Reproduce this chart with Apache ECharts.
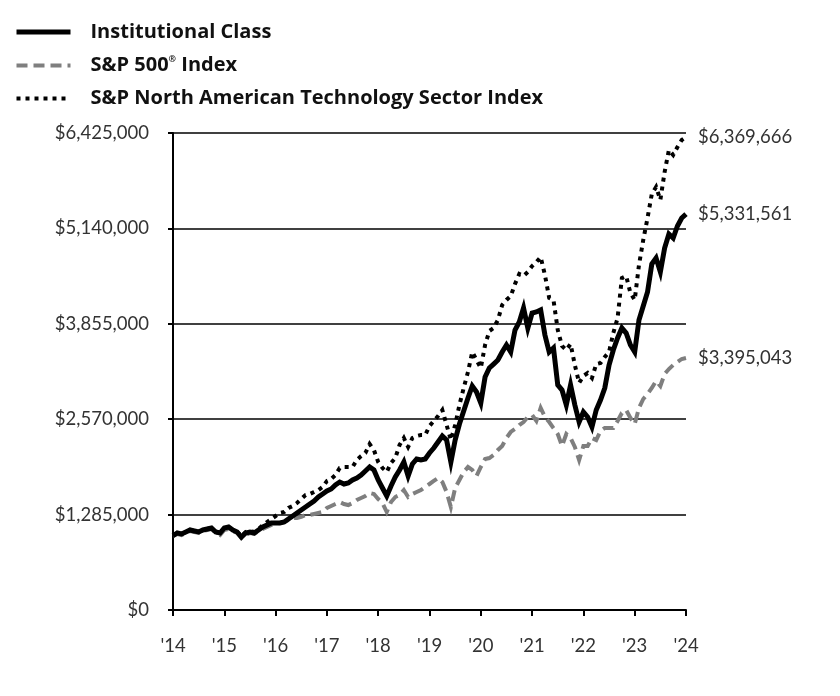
<!DOCTYPE html>
<html>
<head>
<meta charset="utf-8">
<script src="https://cdn.jsdelivr.net/npm/echarts@6/dist/echarts.min.js"></script>
<style>
html,body{margin:0;padding:0;background:#fff;}
#chart{width:840px;height:696px;}
</style>
</head>
<body>
<div id="chart"></div>
<script>
// Year tick labels (one every 12 monthly points)
const yearLabels = ["'14","'15","'16","'17","'18","'19","'20","'21","'22","'23","'24"];

// Monthly values (in thousands of dollars), 121 points
const institutionalClass = [
1000,1037,1024,1051,1078,1064,1051,1078,1091,1105,1051,1037,
1105,1118,1078,1051,983,1037,1051,1037,1078,1118,1145,1172,
1172,1172,1185,1226,1266,1307,1347,1387,1428,1468,1522,1562,
1603,1630,1684,1724,1697,1711,1751,1778,1818,1872,1926,1886,
1751,1643,1536,1670,1791,1886,1993,1805,1967,2034,2020,2034,
2115,2182,2263,2344,2290,1993,2290,2505,2680,2856,3017,2936,
2788,3138,3260,3313,3367,3475,3569,3475,3771,3879,4068,3798,
4000,4014,4041,3704,3475,3529,3031,2963,2761,3031,2761,2532,
2667,2600,2465,2694,2829,2990,3300,3502,3664,3798,3731,3569,
3475,3906,4095,4283,4660,4741,4553,4876,5065,5011,5172,5280,
5331.561];

const sp500Index = [
1000,1024,1010,1037,1064,1051,1037,1064,1078,1091,1037,1010,
1078,1091,1064,1037,970,1010,1037,1024,1064,1091,1118,1145,
1158,1172,1185,1212,1239,1239,1253,1280,1280,1293,1307,1320,
1374,1401,1428,1455,1428,1414,1441,1482,1509,1536,1576,1562,
1495,1441,1320,1455,1522,1549,1616,1522,1562,1589,1616,1657,
1697,1738,1778,1724,1589,1387,1643,1751,1859,1926,1886,1805,
1926,2034,2047,2088,2155,2209,2317,2398,2438,2492,2532,2600,
2627,2546,2721,2600,2532,2451,2371,2209,2371,2317,2196,2020,
2209,2209,2317,2290,2411,2451,2451,2451,2546,2654,2694,2586,
2505,2721,2842,2909,2990,3085,3017,3179,3246,3300,3340,3381,
3395.043];

const techSectorIndex = [
1000,1037,1024,1051,1078,1064,1051,1078,1091,1105,1051,1037,
1105,1118,1078,1051,997,1051,1064,1051,1091,1145,1185,1226,
1266,1307,1320,1374,1401,1441,1495,1549,1562,1589,1616,1657,
1738,1765,1818,1913,1926,1926,1926,2020,2074,2115,2236,2155,
1993,1913,1859,1980,2047,2223,2317,2196,2317,2344,2357,2357,
2478,2546,2613,2694,2492,2290,2492,2761,2990,3206,3475,3367,
3260,3569,3758,3798,3906,4108,4176,4229,4391,4526,4499,4553,
4634,4687,4755,4512,4203,4176,3772,3556,3502,3583,3300,3058,
3152,3192,3125,3313,3327,3408,3475,3731,3933,4472,4499,4270,
4176,4647,4984,5280,5603,5698,5523,5900,6196,6129,6236,6331,
6369.666];

const seriesNames = ['Institutional Class', 'S&P 500® Index', 'S&P North American Technology Sector Index'];

const categories = institutionalClass.map((_, i) => i);
const toDollars = arr => arr.map(v => Math.round(v * 1000));
const fmt = v => '$' + Math.round(v).toLocaleString('en-US');

const FONT = 'Lato';
const LEGEND_FONT = 'Open Sans';
const chart = echarts.init(document.getElementById('chart'), null, {renderer: 'canvas'});

function endLabel() {
  return {
    show: true,
    distance: 12,
    formatter: p => fmt(p.value),
    color: '#333',
    fontFamily: FONT,
    fontSize: 18.5
  };
}

chart.setOption({
  animation: false,
  backgroundColor: '#fff',
  grid: {left: 173, right: 154, top: 133, bottom: 86, containLabel: false},
  legend: {
    orient: 'vertical',
    left: 9,
    top: 17,
    itemWidth: 54,
    itemHeight: 14,
    itemGap: 13,
    data: seriesNames,
    itemStyle: {opacity: 0},
    lineStyle: {width: 'inherit'},
    textStyle: {
      fontFamily: LEGEND_FONT, fontSize: 20, fontWeight: 'bold', color: '#111', padding: [0,0,0,15],
      rich: {
        b: {fontFamily: LEGEND_FONT, fontSize: 20, fontWeight: 'bold', color: '#111'},
        sup: {fontFamily: LEGEND_FONT, fontSize: 9, fontWeight: 'bold', color: '#111', verticalAlign: 'top', padding: [0,0,12,0]}
      }
    },
    formatter: name => {
      if (name === seriesNames[1]) return '{b|S&P 500}{sup|®}{b| Index}';
      return '{b|' + name + '}';
    }
  },
  xAxis: {
    type: 'category',
    data: categories,
    boundaryGap: false,
    axisLine: {lineStyle: {color: '#000', width: 2}},
    axisTick: {show: true, interval: i => i % 12 === 0, length: 6, lineStyle: {color: '#000', width: 2}},
    axisLabel: {
      interval: i => i % 12 === 0,
      formatter: (v, i) => yearLabels[i / 12] || '',
      margin: 27,
      fontFamily: FONT, fontSize: 18.5, color: '#333'
    },
    splitLine: {show: false}
  },
  yAxis: {
    type: 'value',
    min: 0,
    max: 6425000,
    interval: 1285000,
    axisLine: {show: true, lineStyle: {color: '#000', width: 2}},
    axisTick: {show: true, length: 5, lineStyle: {color: '#000', width: 2}},
    axisLabel: {formatter: fmt, margin: 24, fontFamily: FONT, fontSize: 18.5, color: '#333'},
    splitLine: {show: true, lineStyle: {color: '#000', width: 1.6}}
  },
  series: [
    {
      name: seriesNames[1],
      type: 'line',
      data: toDollars(sp500Index),
      symbol: 'none',
      z: 2,
      lineStyle: {color: '#7f7f7f', width: 4, type: [11, 6], cap: 'butt', join: 'miter'},
      itemStyle: {color: '#7f7f7f'},
      endLabel: endLabel()
    },
    {
      name: seriesNames[2],
      type: 'line',
      data: toDollars(techSectorIndex),
      symbol: 'none',
      z: 3,
      lineStyle: {color: '#000', width: 4, type: [4, 5], cap: 'butt', join: 'miter'},
      itemStyle: {color: '#000'},
      endLabel: endLabel()
    },
    {
      name: seriesNames[0],
      type: 'line',
      data: toDollars(institutionalClass),
      symbol: 'none',
      z: 4,
      lineStyle: {color: '#000', width: 5, join: 'miter'},
      itemStyle: {color: '#000'},
      endLabel: endLabel()
    }
  ]
});
</script>
</body>
</html>
